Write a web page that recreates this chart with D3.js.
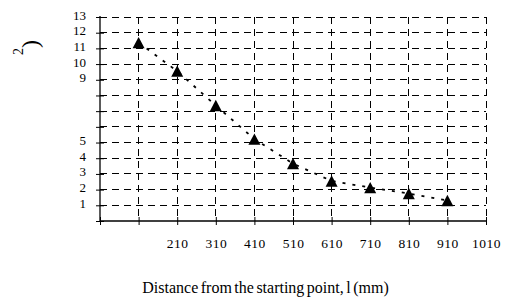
<!DOCTYPE html>
<html>
<head>
<meta charset="utf-8">
<script src="https://cdn.jsdelivr.net/npm/d3@7"></script>
<style>
  body { margin: 0; background: #fff; }
  svg { display: block; font-family: "Liberation Serif", "Times New Roman", serif; }
</style>
</head>
<body>
<script>
// distance from the starting point (mm) and measured values
const distances = [110, 210, 310, 410, 510, 610, 710, 810, 910];
const values = [11.37, 9.55, 7.36, 5.22, 3.66, 2.55, 2.13, 1.75, 1.31];

const xTicks = [10, 110, 210, 310, 410, 510, 610, 710, 810, 910, 1010];
const xTickLabels = ["", "", "210", "310", "410", "510", "610", "710", "810", "910", "1010"];
const yTicks = [0, 1, 2, 3, 4, 5, 6, 7, 8, 9, 10, 11, 12, 13];
const yTickLabels = ["", "1", "2", "3", "4", "5", "", "", "", "9", "10", "11", "12", "13"];

const width = 510, height = 304;
const margin = {left: 100, right: 24, top: 17, bottom: 83};

const x = d3.scaleLinear().domain([10, 1010]).range([margin.left, width - margin.right]);
const y = d3.scaleLinear().domain([0, 13]).range([height - margin.bottom, margin.top]);

const svg = d3.select("body").append("svg")
    .attr("width", width)
    .attr("height", height);

// dashed grid
svg.append("g").selectAll("line")
    .data(yTicks.slice(1))
    .enter().append("line")
    .attr("x1", x(10)).attr("x2", x(1010))
    .attr("y1", d => y(d)).attr("y2", d => y(d))
    .attr("stroke", "#000").attr("stroke-width", 1)
    .attr("stroke-dasharray", "7,5")
    .attr("shape-rendering", "crispEdges");

svg.append("g").selectAll("line")
    .data(xTicks.slice(1))
    .enter().append("line")
    .attr("x1", d => x(d)).attr("x2", d => x(d))
    .attr("y1", y(13)).attr("y2", y(0))
    .attr("stroke", "#000").attr("stroke-width", 1)
    .attr("stroke-dasharray", "7,5")
    .attr("shape-rendering", "crispEdges");

// axes with ticks crossing the line
const xAxis = svg.append("g")
    .attr("transform", `translate(0,${y(0)})`)
    .call(d3.axisBottom(x).tickValues(xTicks).tickSize(4).tickFormat(""))
    .attr("font-family", null);
xAxis.selectAll(".tick line").attr("y1", -4).attr("stroke-width", 1);
xAxis.select(".domain").attr("d", `M${x(10)},0H${x(1010)}`);

xAxis.selectAll(".tick").append("text")
    .attr("y", 27)
    .attr("fill", "#000")
    .attr("text-anchor", "middle")
    .style("font-size", "13.5px")
    .style("letter-spacing", "0.5px")
    .text((d, i) => xTickLabels[i]);

const yAxis = svg.append("g")
    .attr("transform", `translate(${x(10)},0)`)
    .call(d3.axisLeft(y).tickValues(yTicks).tickSize(4).tickFormat(""))
    .attr("font-family", null);
yAxis.selectAll(".tick line").attr("x1", 4).attr("stroke-width", 1);
yAxis.select(".domain").attr("d", `M0,${y(13) - 1}V${y(0)}`);

yAxis.selectAll(".tick").append("text")
    .attr("x", -14)
    .attr("y", 2)
    .attr("fill", "#000")
    .attr("text-anchor", "end")
    .style("font-size", "13px")
    .text((d, i) => yTickLabels[i]);

svg.selectAll(".domain").attr("stroke", "#000").attr("stroke-width", 1.3);

// dotted trend line
const line = d3.line()
    .x((d, i) => x(distances[i]))
    .y(d => y(d));

svg.append("path")
    .datum(values)
    .attr("d", line)
    .attr("fill", "none")
    .attr("stroke", "#000")
    .attr("stroke-width", 1.8)
    .attr("stroke-dasharray", "3,7");

// triangle markers, centred on their box
const tri = {
    draw(ctx, size) {
        const w = Math.sqrt(size), h = w * 0.95;
        ctx.moveTo(0, -h / 2);
        ctx.lineTo(w / 2, h / 2);
        ctx.lineTo(-w / 2, h / 2);
        ctx.closePath();
    }
};

svg.append("g").selectAll("path")
    .data(values)
    .enter().append("path")
    .attr("transform", (d, i) => `translate(${x(distances[i])},${y(d)})`)
    .attr("d", d3.symbol().type(tri).size(144))
    .attr("fill", "#000");

// axis titles
svg.append("text")
    .attr("x", (148 + 383) / 2)
    .attr("y", 293)
    .attr("text-anchor", "middle")
    .style("font-size", "16px")
    .style("word-spacing", "-1.5px")
    .text("Distance from the starting point, l (mm)");

// only the tail of the y title is visible in the original
const yTitle = svg.append("text")
    .attr("transform", "translate(38,40) rotate(-90)")
    .attr("text-anchor", "end")
    .style("font-size", "24px");
yTitle.append("tspan").attr("dy", -15).style("font-size", "14px").text("2");
yTitle.append("tspan").attr("dy", 15).text(")");
</script>
</body>
</html>
